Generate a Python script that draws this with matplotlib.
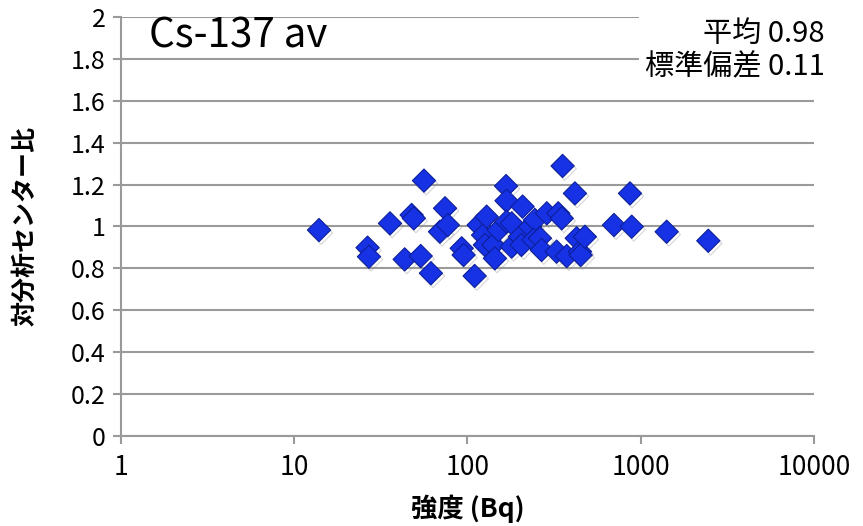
import numpy as np
import matplotlib
matplotlib.use("Agg")
import matplotlib.pyplot as plt
import matplotlib.patheffects as pe
from matplotlib.ticker import FixedLocator, NullLocator

plt.rcParams['font.family'] = ['Noto Sans CJK JP', 'DejaVu Sans']

# 強度 (Bq) と 対分析センター比
kyodo = [13.9, 26.5, 27, 35.7, 43.4, 47.6, 49, 53.7, 56.1, 61.5, 69.4, 74.2, 77,
         92.6, 95, 110, 116, 123, 126, 129, 141, 144, 151, 167, 168, 168, 180,
         180, 201, 205, 208, 230, 245, 240, 262, 268, 287, 327, 334, 350, 354,
         374, 417, 427, 446, 450, 476, 701, 867, 887, 1412, 2455]
hi = [0.983, 0.899, 0.856, 1.015, 0.843, 1.055, 1.039, 0.859, 1.219, 0.777,
      0.975, 1.087, 1.007, 0.896, 0.864, 0.764, 1.007, 0.959, 0.912, 1.047,
      0.912, 0.848, 0.983, 1.193, 1.123, 1.023, 1.015, 0.904, 0.951, 0.912,
      1.095, 0.999, 1.031, 0.936, 0.944, 0.888, 1.063, 0.88, 1.063, 1.039,
      1.289, 0.859, 1.158, 0.944, 0.88, 0.864, 0.951, 1.007, 1.158, 0.999,
      0.975, 0.932]

yticks = [0, 0.2, 0.4, 0.6, 0.8, 1.0, 1.2, 1.4, 1.6, 1.8, 2.0]
ytick_labels = ["0", "0.2", "0.4", "0.6", "0.8", "1", "1.2", "1.4", "1.6", "1.8", "2"]
xticks = [1, 10, 100, 1000, 10000]
xtick_labels = ["1", "10", "100", "1000", "10000"]

fig = plt.figure(figsize=(8.63, 5.26), dpi=100)
ax = fig.add_axes([0.1402, 0.1711, 0.8030, 0.7966])

grau = '#9a9a9a'
ax.set_xscale('log')
ax.set_xlim(1, 10000)
ax.set_ylim(0, 2)
ax.yaxis.set_major_locator(FixedLocator(yticks))
ax.set_yticklabels(ytick_labels)
ax.xaxis.set_major_locator(FixedLocator(xticks))
ax.xaxis.set_minor_locator(NullLocator())
ax.set_xticklabels(xtick_labels)

ax.grid(axis='y', color=grau, linewidth=1.5)
ax.set_axisbelow(True)
for s in ['top', 'right']:
    ax.spines[s].set_visible(False)
for s in ['left', 'bottom']:
    ax.spines[s].set_color(grau)
    ax.spines[s].set_linewidth(1.5)
ax.tick_params(axis='both', direction='out', length=6, width=1.5, color=grau,
               labelsize=18, pad=5)
ax.tick_params(axis='x', labelsize=19, pad=7)

ax.scatter(kyodo, hi, marker='D', s=140, color='#1632e4', edgecolor='#0d1f9a',
           linewidth=0.8, zorder=3,
           path_effects=[pe.SimpleLineShadow(offset=(1.5, -2), shadow_color='#888888', alpha=0.35),
                         pe.Normal()])

ax.text(0.04, 0.955, "Cs-137 av", transform=ax.transAxes, fontsize=29,
        ha='left', va='center', color='black', zorder=5)
ax.text(1.015, 0.92, "平均 0.98\n標準偏差 0.11", transform=ax.transAxes,
        fontsize=21, ha='right', va='center', linespacing=1.15, zorder=5,
        bbox=dict(facecolor='white', edgecolor='none', pad=4))

ax.set_ylabel("対分析センター比", fontsize=18, fontweight='bold', labelpad=24)
ax.set_xlabel("強度 (Bq)", fontsize=19, fontweight='bold', labelpad=10)

fig.savefig("out.png", dpi=100)
